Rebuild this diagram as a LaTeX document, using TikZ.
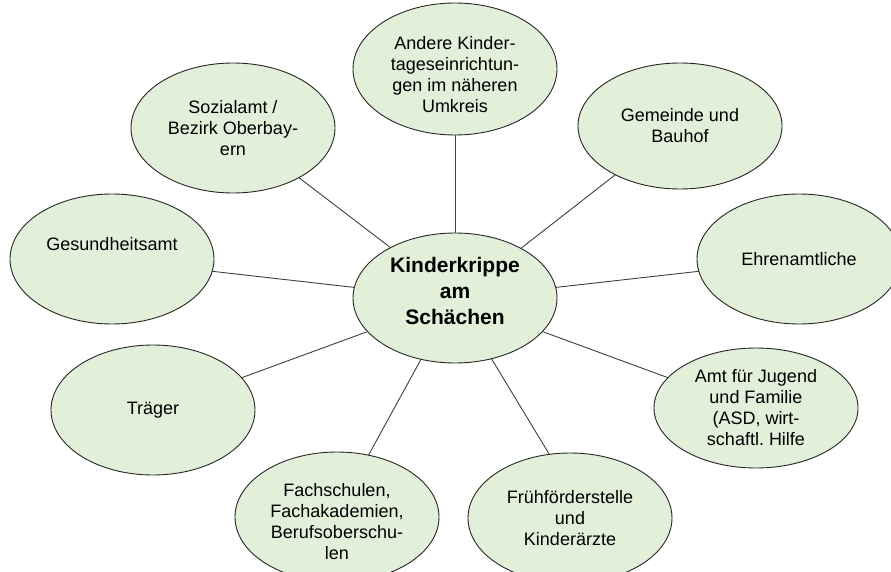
\documentclass[tikz,border=0pt]{standalone}
\usepackage{fontspec}
\setmainfont{Liberation Sans}
\usepackage{tikz}
\usetikzlibrary{shapes.geometric}

\definecolor{bubblefill}{HTML}{E2EFD9}
\definecolor{spokegray}{HTML}{3F3F3F}

\begin{document}
\begin{tikzpicture}[x=1pt, y=-1pt,
    bubble/.style={ellipse, draw=black!85, line width=0.9pt, fill=bubblefill,
      inner sep=0pt, outer sep=0pt, minimum width=204pt, minimum height=130pt,
      align=center, font=\fontsize{18}{21}\selectfont},
    tag/.style={align=center, inner sep=0pt, font=\fontsize{18}{21}\selectfont},
    hubtag/.style={tag, font=\bfseries\fontsize{21}{26}\selectfont},
    spoke/.style={draw=spokegray, line width=0.9pt}]
  \useasboundingbox (0,0) rectangle (891,572);

  % Centre
  \node[bubble, label={[hubtag, yshift=7pt]center:Kinderkrippe\\am\\Schächen}]
    (krippe) at (455,298) {};

  % Partners, clockwise from the top
  \node[bubble, minimum height=132pt,
    label={[tag, yshift=-6pt]center:Andere Kinder-\\tageseinrichtun-\\gen im näheren\\Umkreis}]
    (kitas) at (455,69) {};
  \node[bubble, minimum height=126pt] (gemeinde) at (680,126)
    {Gemeinde und\\Bauhof};
  \node[bubble] (ehrenamt) at (799,259)
    {Ehrenamtliche};
  \node[bubble, minimum height=120pt, inner ysep=-8pt] (jugendamt) at (756,408)
    {Amt für Jugend\\und Familie\\(ASD, wirt-\\schaftl.\ Hilfe};
  \node[bubble] (fruehfoerder) at (570,518)
    {Frühförderstelle\\und\\Kinderärzte};
  \node[bubble,
    label={[tag, yshift=-5pt]center:Fachschulen,\\Fachakademien,\\Berufsoberschu-\\len}]
    (fachschulen) at (337,517) {};
  \node[bubble] (traeger) at (153,410)
    {Träger};
  \node[bubble, label={[tag, yshift=15pt]center:Gesundheitsamt}]
    (gesundheit) at (112,259) {};
  \node[bubble] (sozialamt) at (233,128)
    {Sozialamt /\\Bezirk Oberbay-\\ern};

  % Spokes
  \draw[spoke] (krippe.90)    -- (kitas.270);
  \draw[spoke] (krippe.37)    -- (gemeinde.217);
  \draw[spoke] (krippe.6)     -- (ehrenamt.187);
  \draw[spoke] (krippe.339)   -- (jugendamt.161);
  \draw[spoke] (krippe.301)   -- (fruehfoerder.108);
  \draw[spoke] (krippe.241)   -- (fachschulen.63);
  \draw[spoke] (krippe.201)   -- (traeger.20);
  \draw[spoke] (krippe.174)   -- (gesundheit.353);
  \draw[spoke] (krippe.142)   -- (sozialamt.323);

\end{tikzpicture}
\end{document}
